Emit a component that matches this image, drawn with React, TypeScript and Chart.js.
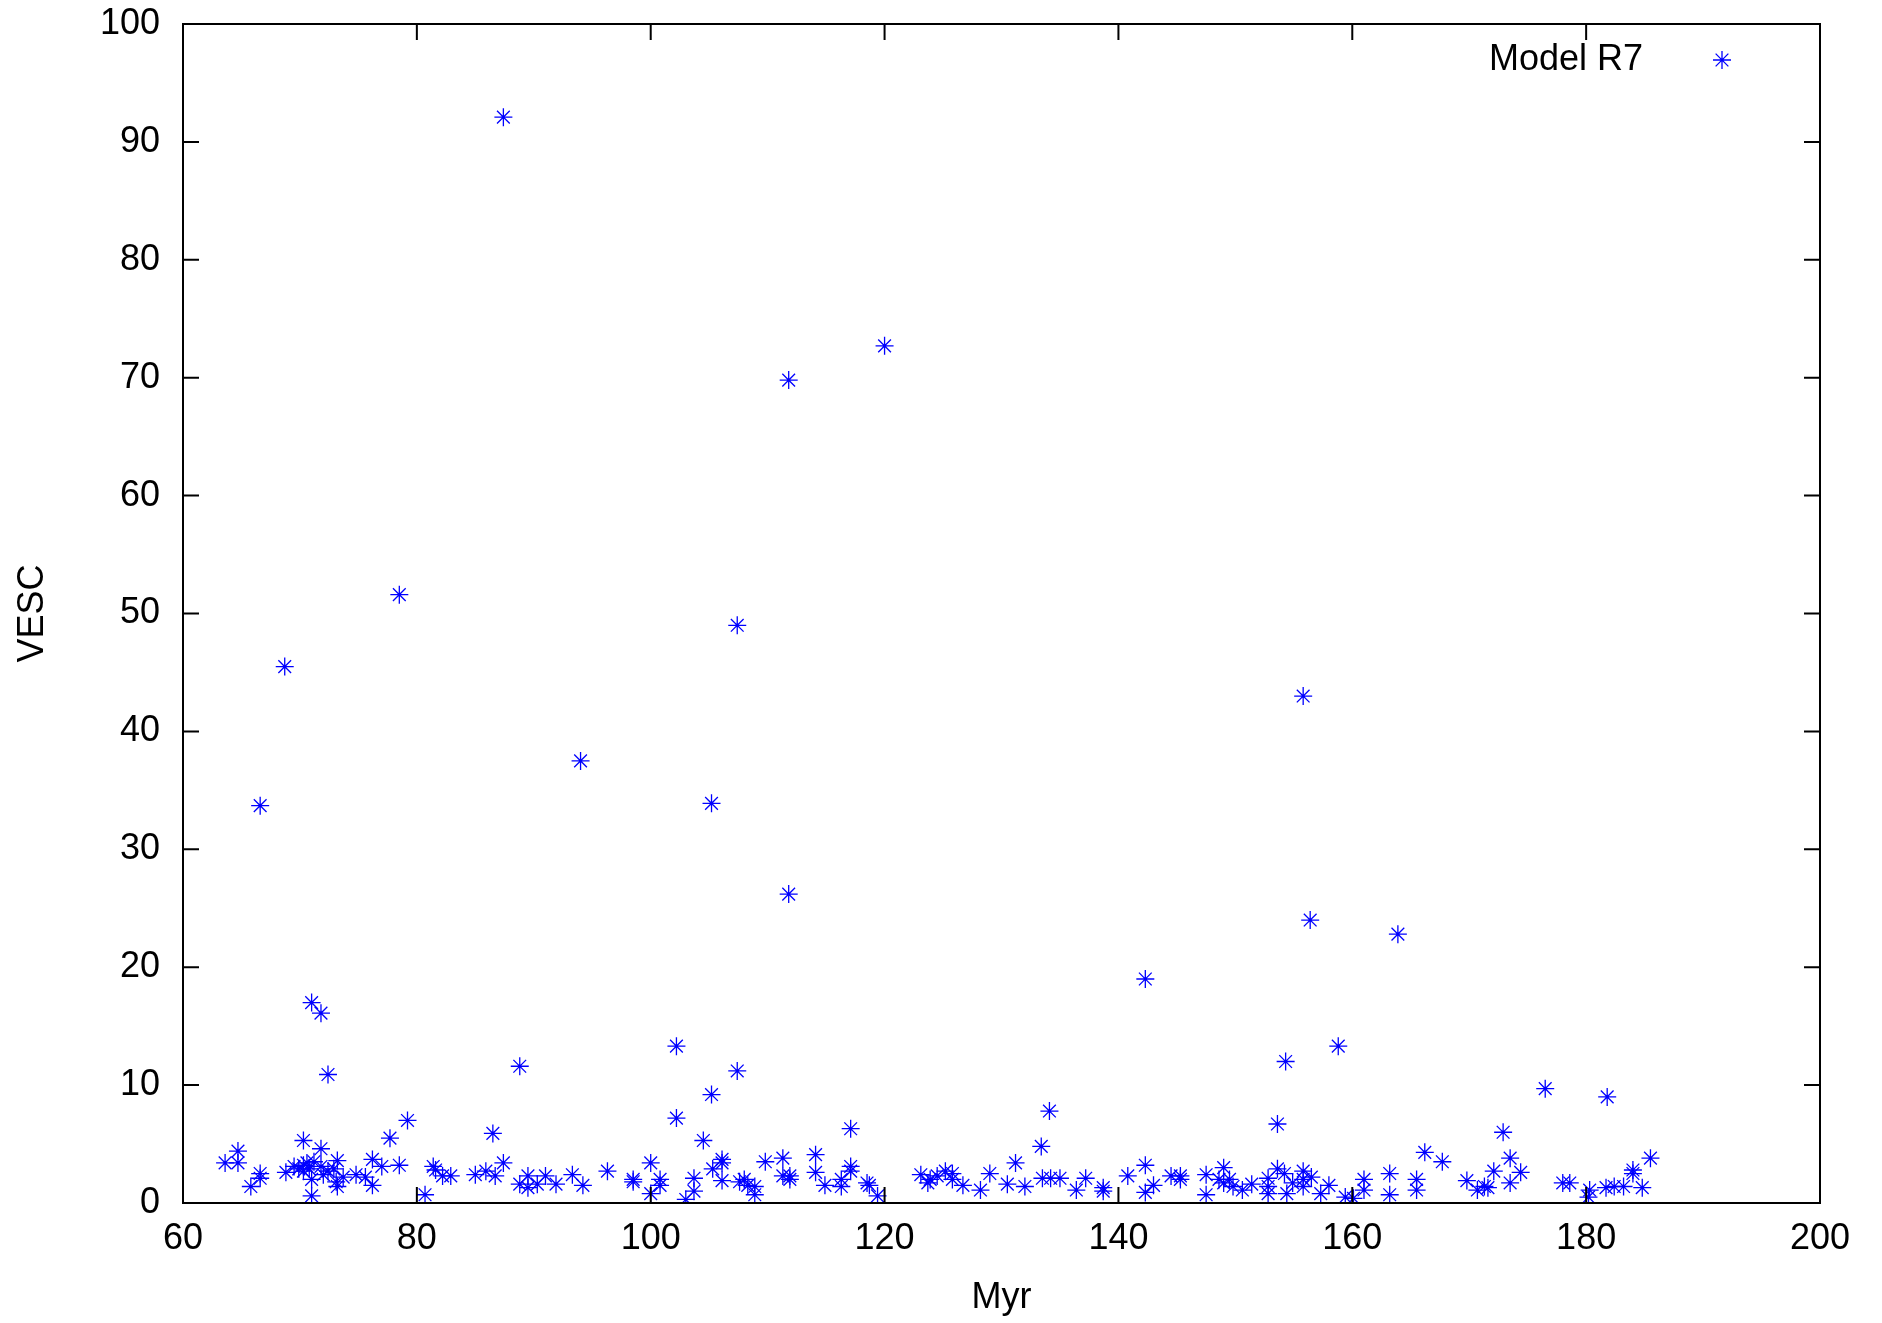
import React, { useEffect, useRef } from 'react';
import { Chart, registerables } from 'chart.js';

Chart.register(...registerables);

const seriesLabel = 'Model R7';
const xTitle = 'Myr';
const yTitle = 'VESC';
const xTicks = [60, 80, 100, 120, 140, 160, 180, 200];
const yTicks = [0, 10, 20, 30, 40, 50, 60, 70, 80, 90, 100];

// outliers
const myrHigh = [87.4, 120.0, 111.8, 78.5, 68.7, 107.4, 155.8, 94.0, 66.6, 105.2, 111.8, 156.4, 163.9, 142.3, 71.0, 71.8, 72.4, 88.8, 102.2, 107.4, 105.2, 158.8, 154.3, 176.5, 181.8];
const vescHigh = [92.1, 72.7, 69.8, 51.6, 45.5, 49.0, 43.0, 37.5, 33.7, 33.9, 26.2, 24.0, 22.8, 19.0, 17.0, 16.1, 10.9, 11.6, 13.3, 11.2, 9.2, 13.3, 12.0, 9.7, 9.0];

// low cluster 60-81
const myrA = [63.6, 64.7, 64.7, 65.8, 66.6, 66.6, 68.8, 69.5, 70.3, 70.3, 70.3, 70.8, 71.0, 71.0, 71.2, 71.8, 71.8, 72.4, 73.1, 73.2, 73.2, 73.7, 74.8, 75.6, 76.2, 76.2, 77.0, 77.7, 78.5, 79.2, 80.7, 69.9, 70.6, 72.0, 72.9];
const vescA = [3.4, 4.4, 3.4, 1.4, 2.5, 2.1, 2.6, 3.1, 5.3, 3.2, 2.7, 2.9, 0.6, 2.0, 3.5, 4.6, 3.1, 2.7, 1.8, 3.6, 1.4, 2.2, 2.4, 2.2, 3.7, 1.5, 3.1, 5.5, 3.2, 7.0, 0.7, 2.9, 3.4, 2.4, 2.9];

// low cluster 81-104
const myrB = [81.4, 81.6, 82.2, 82.9, 85.0, 85.9, 86.5, 86.7, 87.4, 88.8, 89.5, 89.5, 90.3, 91.0, 91.9, 93.3, 94.2, 96.3, 98.5, 98.5, 100.0, 100.0, 100.8, 100.8, 102.2, 103.0, 103.7, 103.7];
const vescB = [3.1, 2.8, 2.3, 2.3, 2.4, 2.7, 5.9, 2.3, 3.4, 1.6, 2.3, 1.3, 1.6, 2.3, 1.6, 2.4, 1.5, 2.7, 2.0, 1.8, 3.4, 0.8, 1.5, 2.0, 7.2, 0.3, 2.1, 1.0];

// low cluster 104-146
const myrC = [104.5, 105.3, 106.1, 106.1, 106.1, 107.6, 108.0, 108.3, 108.9, 108.9, 109.8, 111.3, 111.3, 111.9, 111.9, 114.1, 114.1, 114.9, 116.3, 116.3, 117.1, 117.1, 117.1, 118.5, 118.7, 119.4, 123.1, 123.7, 123.9, 124.5, 125.2, 125.8, 125.8, 126.7, 128.2, 129.0, 130.5, 131.2, 132.0, 133.4, 134.1, 133.5, 134.2, 135.0, 136.4, 137.2, 138.7, 138.7, 140.8, 142.3, 142.3, 143.0, 144.5, 145.3, 145.3];
const vescC = [5.3, 2.9, 3.7, 3.4, 1.9, 1.8, 2.0, 1.5, 1.4, 0.7, 3.5, 3.8, 2.3, 2.3, 2.0, 4.1, 2.6, 1.5, 2.0, 1.4, 6.3, 3.1, 2.7, 1.7, 1.5, 0.6, 2.4, 1.7, 2.0, 2.3, 2.7, 2.5, 2.0, 1.5, 1.1, 2.5, 1.6, 3.4, 1.4, 4.8, 7.8, 2.1, 2.1, 2.1, 1.1, 2.1, 1.3, 1.0, 2.3, 3.2, 0.9, 1.5, 2.3, 2.0, 2.3];

// low cluster 147-186
const myrD = [147.5, 147.5, 149.0, 148.6, 149.0, 149.5, 149.8, 150.6, 151.4, 152.8, 152.8, 152.8, 153.6, 153.6, 154.2, 154.4, 154.9, 155.8, 155.8, 155.8, 156.5, 157.3, 158.0, 159.4, 160.1, 161.0, 161.0, 163.2, 163.2, 165.5, 165.5, 166.2, 167.7, 169.8, 170.7, 171.3, 171.6, 172.1, 172.9, 173.5, 173.5, 174.4, 178.0, 178.6, 180.3, 180.2, 181.7, 182.4, 183.2, 184.0, 184.0, 184.8, 185.5];
const vescD = [2.4, 0.7, 3.0, 2.0, 1.7, 2.0, 1.4, 1.1, 1.6, 2.1, 1.4, 0.8, 6.7, 2.9, 2.5, 0.8, 1.7, 2.7, 2.0, 1.4, 2.2, 0.8, 1.5, 0.5, 0.4, 2.0, 1.1, 2.5, 0.7, 2.0, 1.1, 4.3, 3.5, 1.9, 1.1, 1.4, 1.3, 2.7, 6.0, 3.8, 1.7, 2.6, 1.7, 1.7, 1.1, 0.5, 1.3, 1.4, 1.4, 2.5, 2.8, 1.3, 3.8];

const myr = [...myrHigh, ...myrA, ...myrB, ...myrC, ...myrD];
const vesc = [...vescHigh, ...vescA, ...vescB, ...vescC, ...vescD];

const BLUE = 'rgb(0,0,255)';
const FONT = '"Liberation Sans", Arial, Helvetica, sans-serif';

function drawStar(ctx: CanvasRenderingContext2D, cx: number, cy: number, r: number) {
  const d = r * Math.cos(Math.PI / 4);
  ctx.beginPath();
  ctx.moveTo(cx - r, cy); ctx.lineTo(cx + r, cy);
  ctx.moveTo(cx, cy - r); ctx.lineTo(cx, cy + r);
  ctx.moveTo(cx - d, cy - d); ctx.lineTo(cx + d, cy + d);
  ctx.moveTo(cx - d, cy + d); ctx.lineTo(cx + d, cy - d);
  ctx.stroke();
}

const framePlugin = {
  id: 'gnuFrame',
  afterDatasetsDraw(chart: any) {
    const { ctx, chartArea, scales } = chart;
    const { left, right, top, bottom } = chartArea;
    const L = 16;
    ctx.save();
    ctx.strokeStyle = '#000';
    ctx.lineWidth = 2;
    ctx.beginPath();
    for (const t of xTicks) {
      const px = scales.x.getPixelForValue(t);
      ctx.moveTo(px, bottom); ctx.lineTo(px, bottom - L);
      ctx.moveTo(px, top); ctx.lineTo(px, top + L);
    }
    for (const t of yTicks) {
      const py = scales.y.getPixelForValue(t);
      ctx.moveTo(left, py); ctx.lineTo(left + L, py);
      ctx.moveTo(right, py); ctx.lineTo(right - L, py);
    }
    ctx.stroke();
    ctx.strokeRect(left, top, right - left, bottom - top);

    // legend
    const label = chart.data.datasets[0].label;
    ctx.font = `36px ${FONT}`;
    ctx.fillStyle = '#000';
    ctx.textAlign = 'right';
    ctx.textBaseline = 'middle';
    ctx.fillText(label, right - 177, top + 36);
    ctx.strokeStyle = BLUE;
    ctx.lineWidth = 1.3;
    drawStar(ctx, right - 98, top + 36, 9);
    ctx.restore();
  },
};

export default function App() {
  const ref = useRef<HTMLCanvasElement | null>(null);
  useEffect(() => {
    document.body.style.margin = '0';
    const canvas = ref.current;
    if (!canvas) return;
    Chart.defaults.font.family = FONT;
    const points = myr.map((x, i) => ({ x, y: vesc[i] }));
    const chart = new Chart(canvas, {
      type: 'scatter',
      data: {
        datasets: [
          {
            label: seriesLabel,
            data: points,
            pointStyle: 'star',
            pointRadius: 9,
            borderColor: BLUE,
            backgroundColor: BLUE,
            pointBorderWidth: 1.3,
            borderWidth: 1.3,
          } as any,
        ],
      },
      options: {
        animation: false,
        responsive: false,
        devicePixelRatio: 1,
        layout: { padding: { top: 24, right: 62, bottom: 0, left: 0 } },
        plugins: {
          legend: { display: false },
          tooltip: { enabled: false },
        },
        scales: {
          x: {
            type: 'linear',
            min: 60,
            max: 200,
            afterBuildTicks: (scale: any) => {
              scale.ticks = xTicks.map((v) => ({ value: v }));
            },
            afterFit: (scale: any) => {
              scale.height = 120;
              scale.paddingLeft = 0;
              scale.paddingRight = 0;
            },
            grid: { display: false, drawTicks: false },
            border: { display: false },
            ticks: {
              color: '#000',
              padding: 14,
              font: { size: 36, family: FONT },
              maxRotation: 0,
              autoSkip: false,
            },
            title: {
              display: true,
              text: xTitle,
              color: '#000',
              font: { size: 36, family: FONT },
              padding: { top: 0, bottom: 3 },
            },
          },
          y: {
            type: 'linear',
            min: 0,
            max: 100,
            afterBuildTicks: (scale: any) => {
              scale.ticks = yTicks.map((v) => ({ value: v }));
            },
            afterFit: (scale: any) => {
              scale.width = 183;
              scale.paddingTop = 0;
              scale.paddingBottom = 0;
            },
            grid: { display: false, drawTicks: false },
            border: { display: false },
            ticks: {
              color: '#000',
              padding: 23,
              font: { size: 36, family: FONT },
              autoSkip: false,
            },
            title: {
              display: true,
              text: yTitle,
              color: '#000',
              font: { size: 36, family: FONT },
              padding: { top: 11, bottom: 0 },
            },
          },
        },
      } as any,
      plugins: [framePlugin],
    });
    return () => chart.destroy();
  }, []);
  return (
    <div style={{ width: 1882, height: 1323, background: '#fff' }}>
      <canvas ref={ref} width={1882} height={1323} style={{ display: 'block', width: 1882, height: 1323 }} />
    </div>
  );
}
